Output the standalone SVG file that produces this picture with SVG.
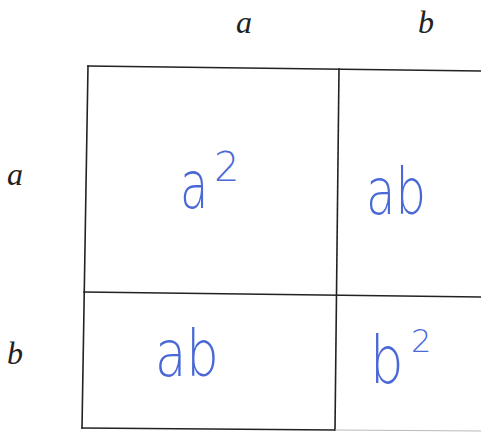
<svg xmlns="http://www.w3.org/2000/svg" width="481" height="432" viewBox="0 0 481 432">
<style>
.ln{stroke:#222;stroke-width:1.6;fill:none;stroke-linecap:square}
.lab{font-family:"Liberation Serif",serif;font-style:italic;font-size:32px;fill:#222}
.hw{font-family:"DejaVu Sans","Liberation Sans",sans-serif;fill:#4a68d6;font-weight:200}
</style>
<rect width="481" height="432" fill="#fff"/>
<g id="connectors">
<line class="ln" x1="88" y1="66" x2="481" y2="71"/>
<line class="ln" x1="88" y1="66" x2="82" y2="428"/>
<line class="ln" x1="339" y1="69" x2="335" y2="430"/>
<line class="ln" x1="84" y1="292" x2="481" y2="297"/>
<line class="ln" x1="82" y1="428" x2="335" y2="430"/>
<line x1="335" y1="430" x2="481" y2="431" stroke="#bbb" stroke-width="1.2"/>
</g>
<g id="labels">
<text class="lab" x="236" y="33">a</text>
<text class="lab" x="418" y="33">b</text>
<text class="lab" x="7" y="185">a</text>
<text class="lab" x="7" y="364">b</text>
</g>
<g id="cell-a2">
<text class="hw" transform="translate(180,208) scale(0.7,1)" font-size="66">a</text>
<text class="hw" x="214" y="181" font-size="40">2</text>
</g>
<g id="cell-ab-top">
<text class="hw" transform="translate(366,214) scale(0.75,1)" font-size="64">ab</text>
</g>
<g id="cell-ab-bottom">
<text class="hw" transform="translate(155,376) scale(0.8,1)" font-size="64">ab</text>
</g>
<g id="cell-b2">
<text class="hw" transform="translate(370,383) scale(0.8,1)" font-size="66">b</text>
<text class="hw" x="411" y="352" font-size="32">2</text>
</g>
</svg>
